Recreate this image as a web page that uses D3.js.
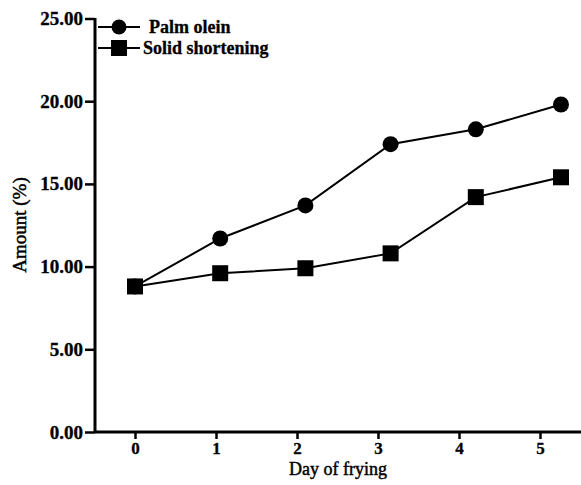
<!DOCTYPE html>
<html>
<head>
<meta charset="utf-8">
<script src="https://cdn.jsdelivr.net/npm/d3@7.9.0/dist/d3.min.js"></script>
<style>
  body { margin: 0; background: #fff; }
</style>
</head>
<body>
<svg id="chart" width="581" height="485"></svg>
<script>
// day ticks and the two series (amount %)
const days = [0, 1, 2, 3, 4, 5];
const palmOlein = [8.8, 11.7, 13.7, 17.4, 18.3, 19.8];
const solidShortening = [8.8, 9.6, 9.9, 10.8, 14.2, 15.4];
const yTicks = [0, 5, 10, 15, 20, 25];

const FONT = '"Liberation Serif"';
const svg = d3.select('#chart');

// axis scale
const x = d3.scaleLinear().domain([0, 5]).range([135, 540]);
// markers in the original are spread a bit wider than the tick labels
const xPts = d3.scaleLinear().domain([0, 5]).range([135, 561]);
const y = d3.scaleLinear().domain([0, 25]).range([432, 18.5]);

// axes
const xAxis = svg.append('g')
  .attr('transform', 'translate(0,432)')
  .call(d3.axisBottom(x).tickValues(days).tickSize(7).tickPadding(3).tickFormat(d3.format('d')));
xAxis.select('.domain').attr('d', 'M95,0H581');

const yAxis = svg.append('g')
  .attr('transform', 'translate(95,0)')
  .call(d3.axisLeft(y).tickValues(yTicks).tickSize(10).tickPadding(2).tickFormat(d3.format('.2f')));
yAxis.select('.domain').attr('d', 'M0,18H0V432');

svg.selectAll('.domain').attr('stroke', '#000').attr('stroke-width', 3);
svg.selectAll('.tick line').attr('stroke', '#000').attr('stroke-width', 2.5);
svg.selectAll('.tick text')
  .attr('font-family', FONT)
  .attr('font-size', 19)
  .attr('font-weight', 'bold')
  .attr('fill', '#000')
  .attr('stroke', '#000').attr('stroke-width', 0.3);
xAxis.selectAll('.tick text').attr('font-size', 17);

// axis titles
svg.append('text')
  .attr('x', 338).attr('y', 475)
  .attr('text-anchor', 'middle')
  .attr('font-family', FONT)
  .attr('font-size', 18)
  .attr('stroke', '#000').attr('stroke-width', 0.45)
  .text('Day of frying');

svg.append('text')
  .attr('transform', 'translate(26,225) rotate(-90)')
  .attr('text-anchor', 'middle')
  .attr('font-family', FONT)
  .attr('font-size', 19)
  .attr('stroke', '#000').attr('stroke-width', 0.45)
  .text('Amount (%)');

const line = d3.line()
  .x((d, i) => xPts(days[i]))
  .y(d => y(d));

// solid shortening
svg.append('path')
  .datum(solidShortening)
  .attr('d', line)
  .attr('fill', 'none').attr('stroke', '#000').attr('stroke-width', 2);

svg.selectAll('.sq')
  .data(solidShortening)
  .join('rect')
  .attr('x', (d, i) => xPts(days[i]) - 8)
  .attr('y', d => y(d) - 8)
  .attr('width', 16).attr('height', 16)
  .attr('fill', '#000');

// palm olein
svg.append('path')
  .datum(palmOlein)
  .attr('d', line)
  .attr('fill', 'none').attr('stroke', '#000').attr('stroke-width', 2);

svg.selectAll('.dot')
  .data(palmOlein)
  .join('circle')
  .attr('cx', (d, i) => xPts(days[i]))
  .attr('cy', d => y(d))
  .attr('r', 8)
  .attr('fill', '#000');

// legend
const legend = svg.append('g');
legend.append('line').attr('x1', 98).attr('x2', 140).attr('y1', 27).attr('y2', 27)
  .attr('stroke', '#000').attr('stroke-width', 2);
legend.append('circle').attr('cx', 119).attr('cy', 27).attr('r', 7.5).attr('fill', '#000');
legend.append('text').attr('x', 149).attr('y', 33)
  .attr('font-family', FONT).attr('font-size', 18).attr('font-weight', 'bold')
  .attr('stroke', '#000').attr('stroke-width', 0.3)
  .text('Palm olein');

legend.append('line').attr('x1', 98).attr('x2', 140).attr('y1', 48).attr('y2', 48)
  .attr('stroke', '#000').attr('stroke-width', 2);
legend.append('rect').attr('x', 111).attr('y', 40).attr('width', 16).attr('height', 16).attr('fill', '#000');
legend.append('text').attr('x', 143).attr('y', 54)
  .attr('font-family', FONT).attr('font-size', 18).attr('font-weight', 'bold')
  .attr('stroke', '#000').attr('stroke-width', 0.3)
  .text('Solid shortening');
</script>
</body>
</html>
